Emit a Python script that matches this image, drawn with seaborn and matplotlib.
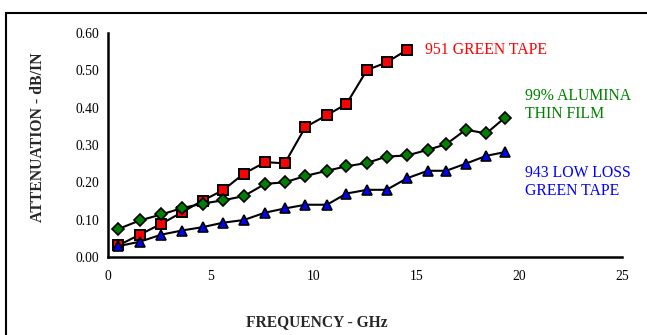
import matplotlib
matplotlib.use("Agg")
import matplotlib.pyplot as plt
from matplotlib.patches import Rectangle
import seaborn as sns

freq = [0.5, 1.55, 2.6, 3.6, 4.6, 5.6, 6.6, 7.65, 8.6, 9.6, 10.65, 11.6, 12.6, 13.55,
        14.55, 15.55, 16.45, 17.4, 18.4, 19.3]
green_tape_951 = [0.031, 0.060, 0.089, 0.120, 0.151, 0.179, 0.223, 0.254, 0.251, 0.348,
                  0.380, 0.410, 0.501, 0.521, 0.555]
alumina_99 = [0.075, 0.098, 0.114, 0.131, 0.143, 0.152, 0.163, 0.196, 0.200, 0.217,
              0.231, 0.243, 0.252, 0.269, 0.272, 0.287, 0.302, 0.341, 0.331, 0.373]
low_loss_943 = [0.029, 0.041, 0.060, 0.071, 0.080, 0.092, 0.099, 0.119, 0.130, 0.140,
                0.140, 0.170, 0.180, 0.180, 0.211, 0.231, 0.231, 0.250, 0.271, 0.281]

sns.set_style("white")
plt.rcParams['font.family'] = ['Liberation Serif', 'DejaVu Serif']

fig = plt.figure(figsize=(6.47, 3.35), dpi=100)
ax = fig.add_axes([0.1669, 0.2328, 0.7944, 0.6687])

# outer frame running off the right/bottom edges
fig.patches.append(Rectangle((6 / 647, -0.1), 1.2, 1 - 13 / 335 + 0.1, transform=fig.transFigure,
                             fill=False, edgecolor='black', linewidth=1.5))

sns.lineplot(x=freq[:len(green_tape_951)], y=green_tape_951, ax=ax, color='black', lw=1.5,
             marker='s', markersize=7.5, markerfacecolor='#ff0000', markeredgecolor='black',
             markeredgewidth=1.4)
sns.lineplot(x=freq, y=alumina_99, ax=ax, color='black', lw=1.5,
             marker='D', markersize=6, markerfacecolor='#008000', markeredgecolor='black',
             markeredgewidth=1.2)
sns.lineplot(x=freq, y=low_loss_943, ax=ax, color='black', lw=1.5,
             marker='^', markersize=7.5, markerfacecolor='#0000ff', markeredgecolor='black',
             markeredgewidth=1.2)

ax.set_xlim(0, 25)
ax.set_ylim(0, 0.6)
ax.set_xticks([0, 5, 10, 15, 20, 25])
ax.set_yticks([0, 0.1, 0.2, 0.3, 0.4, 0.5, 0.6])
ax.set_yticklabels([f"{v:.2f}" for v in ax.get_yticks()])
for s in ['top', 'right']:
    ax.spines[s].set_visible(False)
for s in ['left', 'bottom']:
    ax.spines[s].set_linewidth(1.8)
    ax.spines[s].set_color('black')
ax.tick_params(direction='inout', length=7, width=1.5, labelsize=9.8, colors='black')
ax.tick_params(axis='x', pad=6)
ax.tick_params(axis='y', pad=3)

fig.text(0.058, 0.59, "ATTENUATION - dB/IN", rotation=90, ha='center', va='center',
         fontsize=11.3, fontweight='bold')
fig.text(0.489, 0.038, "FREQUENCY - GHz", ha='center', va='center', fontsize=11.2,
         fontweight='bold')

ax.text(15.4, 0.555, "951 GREEN TAPE", color='#ff0000', fontsize=11.3, va='center')
ax.text(20.3, 0.407, "99% ALUMINA\nTHIN FILM", color='#008000', fontsize=11.3, va='center',
        linespacing=1.1)
ax.text(20.3, 0.201, "943 LOW LOSS\nGREEN TAPE", color='#0000ff', fontsize=11.3, va='center',
        linespacing=1.1)

fig.savefig("out.png", dpi=100)
